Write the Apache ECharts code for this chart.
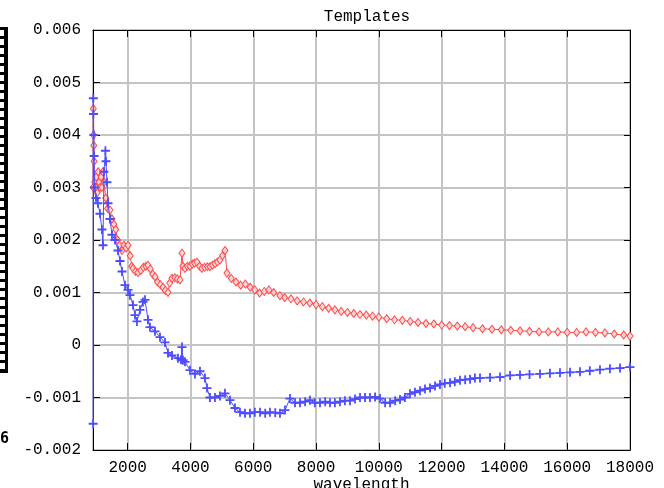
<!DOCTYPE html>
<html><head><meta charset="utf-8">
<script src="https://cdn.jsdelivr.net/npm/echarts@6/dist/echarts.min.js"></script>
<style>html,body{margin:0;padding:0;background:#fff}#c{width:664px;height:488px}</style>
</head><body><div id="c"></div>
<script>
const title = 'Templates';
const xName = 'wavelength';
const xTicks = [2000, 4000, 6000, 8000, 10000, 12000, 14000, 16000, 18000];
const yTicks = [-0.002, -0.001, 0, 0.001, 0.002, 0.003, 0.004, 0.005, 0.006];

const redX = [900,905,910,920,930,950,980,1000,1030,1060,1090,1120,1150,1180,1210,1250,1300,1360,1436,1500,1560,1620,1680,1740,1819,1880,1950,2010,2080,2130,2169,2250,2328,2420,2500,2580,2647,2720,2800,2870,2950,3040,3124,3200,3284,3340,3411,3500,3580,3666,3729,3760,3825,3900,3980,4060,4130,4207,4290,4367,4450,4540,4621,4700,4780,4860,4940,5020,5099,5163,5300,5450,5600,5750,5900,6050,6200,6350,6500,6650,6850,7000,7200,7400,7600,7800,8000,8200,8400,8600,8800,9000,9200,9400,9600,9800,10000,10250,10500,10750,11000,11250,11500,11750,12000,12250,12500,12750,13000,13300,13600,13900,14200,14500,14800,15100,15400,15700,16000,16300,16600,16900,17200,17500,17800,18000];
const redY = [0.0030,0.0045,0.0040,0.0038,0.0035,0.0031,0.0030,0.0032,0.0029,0.0033,0.0031,0.0030,0.0032,0.0030,0.0033,0.0031,0.0028,0.0026,0.00257,0.0024,0.0023,0.0022,0.0020,0.0019,0.0018,0.0019,0.00185,0.0019,0.0017,0.0015,0.00146,0.0014,0.00138,0.00142,0.00148,0.0015,0.00152,0.00145,0.00135,0.0013,0.0012,0.00115,0.0011,0.00104,0.0010,0.00118,0.00127,0.00128,0.00126,0.00124,0.00175,0.0015,0.00146,0.0015,0.0015,0.00154,0.00156,0.00158,0.0015,0.00146,0.00148,0.00149,0.00149,0.00152,0.00155,0.00158,0.00162,0.0017,0.0018,0.00137,0.00127,0.0012,0.00114,0.00116,0.0011,0.00105,0.00099,0.00102,0.00105,0.001,0.00094,0.0009,0.00088,0.00084,0.00082,0.0008,0.00077,0.00073,0.0007,0.00067,0.00064,0.00062,0.0006,0.00058,0.00057,0.00055,0.00053,0.0005,0.00048,0.00047,0.00045,0.00043,0.00041,0.0004,0.00038,0.00037,0.00036,0.00035,0.00033,0.00031,0.0003,0.00029,0.00028,0.00027,0.00026,0.00025,0.00025,0.00025,0.00024,0.00024,0.00025,0.00024,0.00023,0.00021,0.00019,0.00017];

const blueX = [900,905,910,920,930,950,990,1050,1117,1180,1213,1245,1290,1309,1341,1373,1436,1500,1596,1691,1755,1819,1914,2010,2073,2169,2233,2296,2392,2487,2551,2647,2710,2870,3029,3188,3284,3411,3602,3700,3729,3760,3825,3984,4143,4303,4462,4526,4621,4780,4940,5099,5258,5417,5577,5736,5895,6050,6214,6380,6532,6700,6851,7010,7169,7330,7488,7650,7806,7960,8125,8290,8444,8600,8762,8920,9081,9240,9400,9560,9718,9880,10037,10200,10356,10520,10674,10830,10993,11150,11311,11470,11630,11790,11948,12100,12267,12420,12585,12750,12904,13060,13222,13541,13859,14180,14496,14800,15133,15450,15770,16090,16407,16720,17044,17360,17681,18000];
const blueY = [-0.0015,0.0047,0.0044,0.0040,0.0036,0.0030,0.0028,0.0027,0.0025,0.0022,0.0019,0.0033,0.0037,0.0035,0.0031,0.0027,0.0024,0.0021,0.0020,0.0018,0.0016,0.0014,0.00114,0.00105,0.00095,0.00076,0.00057,0.00045,0.00067,0.00082,0.00086,0.00048,0.00034,0.00026,0.00015,0.00005,-0.00015,-0.0002,-0.00025,-0.00028,-0.00004,-0.00029,-0.00032,-0.00048,-0.00055,-0.0005,-0.00063,-0.00082,-0.001,-0.001,-0.00097,-0.00092,-0.00105,-0.0012,-0.00128,-0.0013,-0.0013,-0.00128,-0.00128,-0.0013,-0.00128,-0.00129,-0.0013,-0.00124,-0.00102,-0.0011,-0.0011,-0.00108,-0.00105,-0.0011,-0.0011,-0.00108,-0.0011,-0.0011,-0.00108,-0.00106,-0.00106,-0.00103,-0.001,-0.001,-0.001,-0.00099,-0.00102,-0.0011,-0.0011,-0.00106,-0.00104,-0.001,-0.00093,-0.0009,-0.00087,-0.00084,-0.00082,-0.00078,-0.00075,-0.00073,-0.00072,-0.0007,-0.00067,-0.00066,-0.00065,-0.00063,-0.00063,-0.00062,-0.00061,-0.00058,-0.00057,-0.00056,-0.00055,-0.00054,-0.00053,-0.00052,-0.00051,-0.00049,-0.00047,-0.00045,-0.00044,-0.00042];

const FONT = 'Liberation Mono';
const RED = '#ff4a4a';
const BLUE = '#4d4dff';
const PLUS = 'path://M4,0h2v4h4v2h-4v4h-2v-4h-4v-2h4z';

const chart = echarts.init(document.getElementById('c'), null, {renderer: 'canvas'});

// decorative left artifact
const deco = [];
deco.push({type:'rect', shape:{x:0,y:27,width:8,height:346}, style:{fill:'#000'}, silent:true});
for (let y = 30; y < 368; y += 9) {
  deco.push({type:'rect', shape:{x:0,y:y,width:y<210?4:5,height:6}, style:{fill:'#fff'}, silent:true});
}
deco.push({type:'text', x:0, y:432, style:{text:'6', font:'bold 15px "DejaVu Sans Mono"', fill:'#000'}, silent:true});

const fmtX = v => xTicks.includes(Math.round(v)) && Math.abs(v - Math.round(v)) < 1e-6 ? String(Math.round(v)) : '';
const fmtY = v => String(+v.toFixed(3));

chart.setOption({
  animation: false,
  backgroundColor: '#fff',
  title: {text: title, left: 362, top: 4, textAlign: 'center',
    textStyle: {fontFamily: FONT, fontSize: 16, fontWeight: 'normal', color: '#000'}},
  grid: {left: 93, right: 34, top: 30, bottom: 38, containLabel: false, outerBoundsMode: 'none'},
  graphic: deco,
  xAxis: [{
    type: 'value', min: 895, max: 18000, splitNumber: 8,
    name: xName, nameLocation: 'middle', nameGap: 27, nameMoveOverlap: false,
    nameTextStyle: {fontFamily: FONT, fontSize: 16, color: '#000', verticalAlign: 'top'},
    axisLine: {show: true, onZero: false, lineStyle: {color: '#000', width: 1}},
    axisTick: {show: true, inside: true, length: 7, lineStyle: {color: '#000'}},
    axisLabel: {formatter: fmtX, fontFamily: FONT, fontSize: 16, color: '#000', margin: 10, showMinLabel: false},
    splitLine: {show: true, lineStyle: {color: '#c4c4c4', width: 2}}
  }, {
    type: 'value', position: 'top', min: 895, max: 18000, splitNumber: 8,
    axisLine: {show: true, onZero: false, lineStyle: {color: '#000', width: 1}},
    axisTick: {show: true, inside: true, length: 7, lineStyle: {color: '#000'}},
    axisLabel: {show: false}, splitLine: {show: false}
  }],
  yAxis: [{
    type: 'value', min: -0.002, max: 0.006, interval: 0.001,
    axisLine: {show: true, onZero: false, lineStyle: {color: '#000', width: 1}},
    axisTick: {show: true, inside: true, length: 7, lineStyle: {color: '#000'}},
    axisLabel: {formatter: fmtY, fontFamily: FONT, fontSize: 16, color: '#000', margin: 12},
    splitLine: {show: true, lineStyle: {color: '#c4c4c4', width: 2}}
  }, {
    type: 'value', position: 'right', min: -0.002, max: 0.006, interval: 0.001,
    axisLine: {show: true, onZero: false, lineStyle: {color: '#000', width: 1}},
    axisTick: {show: true, inside: true, length: 6, lineStyle: {color: '#000'}},
    axisLabel: {show: false}, splitLine: {show: false}
  }],
  series: [{
    type: 'line', name: 'red', xAxisIndex: 0, yAxisIndex: 0,
    data: redX.map((x, i) => [x, redY[i]]),
    symbol: 'diamond', symbolSize: [6, 8], showSymbol: true, showAllSymbol: true,
    lineStyle: {color: RED, width: 1},
    itemStyle: {color: '#ffd6d6', borderColor: RED, borderWidth: 1},
    z: 3
  }, {
    type: 'line', name: 'blue', xAxisIndex: 0, yAxisIndex: 0,
    data: blueX.map((x, i) => [x, blueY[i]]),
    symbol: PLUS, symbolSize: 9, showSymbol: true, showAllSymbol: true,
    lineStyle: {color: BLUE, width: 1},
    itemStyle: {color: BLUE},
    z: 4
  }]
});
</script></body></html>
